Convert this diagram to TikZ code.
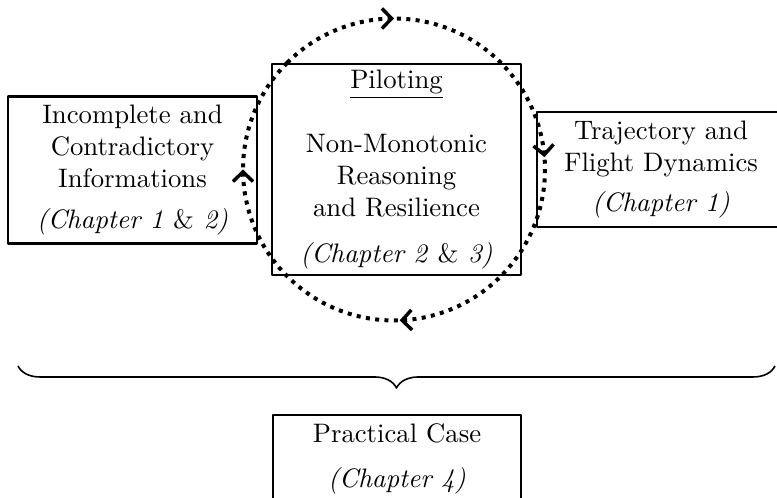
\documentclass[tikz,border=0pt]{standalone}
\usetikzlibrary{arrows.meta,decorations.markings,decorations.pathreplacing}
\begin{document}
\begin{tikzpicture}[x=0.01315cm, y=-0.01315cm, line join=round, >={Straight Barb[length=3.6pt,width=7.5pt]},
	box/.style={draw, thick, align=center, inner sep=0pt},
	loop/.style={line width=1.5pt, dotted, decoration={markings,
		mark=at position 0.125 with {\arrow[solid,line width=1.3pt]{>}},
		mark=at position 0.362 with {\arrow[solid,line width=1.3pt]{>}},
		mark=at position 0.619 with {\arrow[solid,line width=1.3pt]{>}},
		mark=at position 0.875 with {\arrow[solid,line width=1.3pt]{>}}}, postaction={decorate}}]
	\useasboundingbox (0,0) rectangle (777,498);
	\node[box, minimum width=3.274cm, minimum height=1.933cm] (info) at (132.5,170) {Incomplete and\\ Contradictory\\ Informations\\[3pt] \textit{(Chapter 1 }\&\textit{ 2)}};
	\node[box, minimum width=3.274cm, minimum height=2.775cm] (pilot) at (396.5,169.5) {\underline{Piloting}\\[12pt] Non-Monotonic\\ Reasoning\\ and Resilience\\[5pt] \textit{(Chapter 2 }\&\textit{ 3)}};
	\node[box, minimum width=3.261cm, minimum height=1.512cm] (traj) at (661,169.5) {Trajectory and\\ Flight Dynamics\\[3pt] \textit{(Chapter 1)}};
	\node[box, minimum width=3.261cm, minimum height=1.157cm] (case) at (397,459) {Practical Case\\[5pt] \textit{(Chapter 4)}};
	\coordinate (mid) at (394,169.5);
	\coordinate (bl) at (18,366);
	\coordinate (br) at (775,366);
	\draw[loop] (mid) ++(135:1.986cm) arc[start angle=135, end angle=-225, radius=1.986cm];
	\draw[semithick, decorate, decoration={brace, mirror, amplitude=0.289cm}] (bl) -- (br);
\end{tikzpicture}
\end{document}
